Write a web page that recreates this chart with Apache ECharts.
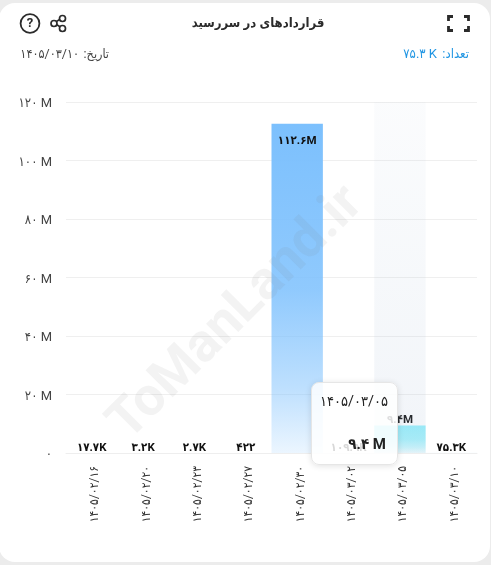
<!DOCTYPE html>
<html lang="fa">
<head>
<meta charset="utf-8">
<title>قراردادهای در سررسید</title>
<style>
html,body{margin:0;padding:0;background:#ececec;}
#chart{width:491px;height:565px;}
</style>
<script src="https://cdn.jsdelivr.net/npm/echarts@6/dist/echarts.min.js"></script>
</head>
<body>
<div id="chart"></div>
<script>
// Expiry dates and open contracts per date
const dates = ['۱۴۰۵/۰۲/۱۶','۱۴۰۵/۰۲/۲۰','۱۴۰۵/۰۲/۲۳','۱۴۰۵/۰۲/۲۷','۱۴۰۵/۰۲/۳۰','۱۴۰۵/۰۳/۰۲','۱۴۰۵/۰۳/۰۵','۱۴۰۵/۰۳/۱۰'];
const contracts = [17700, 3200, 2700, 422, 112600000, 109900, 9400000, 75300];
const barColors = ['124,192,253','124,192,253','124,192,253','124,192,253','124,192,253','124,192,253','150,240,252','124,192,253'];
const yTicks = [0, 20000000, 40000000, 60000000, 80000000, 100000000, 120000000];

const title = 'قراردادهای در سررسید';
const countLabel = 'تعداد:\u200f';
const countValue = '۷۵.۳ K';
const dateLabel = 'تاریخ:\u200f';
const dateValue = '۱۴۰۵/۰۳/۱۰';
const watermark = 'ToManLand.ir';
const activeIndex = 6;

const FONT = 'Roboto, "DejaVu Sans Condensed", "DejaVu Sans", sans-serif';
const toFa = s => String(s).replace(/\d/g, d => '۰۱۲۳۴۵۶۷۸۹'[d]);

// Compact number: 112600000 -> ۱۱۲.۶M, 17700 -> ۱۷.۷K, 422 -> ۴۲۲
function compact(v, sep) {
  if (v >= 1e6) return toFa(+(v / 1e6).toFixed(1)) + sep + 'M';
  if (v >= 1e3) return toFa(+(v / 1e3).toFixed(1)) + sep + 'K';
  return toFa(v);
}

const chart = echarts.init(document.getElementById('chart'), null, {renderer: 'canvas'});

const headerGraphics = [
  // card
  {type:'rect', z:-10, silent:true, shape:{x:-1, y:3, width:491, height:559, r:16}, style:{fill:'#fff'}},
  // watermark, laid over the bars
  {type:'text', z:50, silent:true, x:237, y:314, rotation:Math.PI/4, style:{
    text:watermark, fill:'rgba(120,120,120,0.09)', font:'bold 54px Roboto, sans-serif', align:'center', verticalAlign:'middle'}},
  // title row
  {type:'text', x:258, y:24, style:{text:title, fill:'#2b2b2b', font:'bold 13px '+FONT, align:'center', verticalAlign:'middle'}},
  {type:'text', x:469, y:55, style:{text:countLabel, fill:'#2196e3', font:'13px '+FONT, align:'right', verticalAlign:'middle'}},
  {type:'text', x:437, y:55, style:{text:countValue, fill:'#2196e3', font:'13px '+FONT, align:'right', verticalAlign:'middle'}},
  {type:'text', x:109, y:55, style:{text:dateLabel, fill:'#444', font:'12.5px '+FONT, align:'right', verticalAlign:'middle'}},
  {type:'text', x:79, y:55, style:{text:dateValue, fill:'#444', font:'12.5px '+FONT, align:'right', verticalAlign:'middle'}},
  // help button
  {type:'circle', shape:{cx:30, cy:23.5, r:9.4}, style:{fill:'none', stroke:'#2b2b2b', lineWidth:1.8}},
  {type:'text', x:30, y:24, style:{text:'?', fill:'#2b2b2b', font:'bold 13px Roboto, sans-serif', align:'center', verticalAlign:'middle'}},
  // share button
  {type:'polyline', shape:{points:[[62,18],[54,23],[62,28]]}, style:{fill:'none', stroke:'#2b2b2b', lineWidth:1.6}},
  {type:'circle', shape:{cx:62.5, cy:18.5, r:3}, style:{fill:'#fff', stroke:'#2b2b2b', lineWidth:1.7}},
  {type:'circle', shape:{cx:54, cy:23.5, r:3}, style:{fill:'#fff', stroke:'#2b2b2b', lineWidth:1.7}},
  {type:'circle', shape:{cx:62.5, cy:28.5, r:3}, style:{fill:'#fff', stroke:'#2b2b2b', lineWidth:1.7}},
  // fullscreen button
  {type:'polyline', shape:{points:[[448.5,21],[448.5,16.5],[453,16.5]]}, style:{fill:'none', stroke:'#2b2b2b', lineWidth:2.8}},
  {type:'polyline', shape:{points:[[464,16.5],[468.5,16.5],[468.5,21]]}, style:{fill:'none', stroke:'#2b2b2b', lineWidth:2.8}},
  {type:'polyline', shape:{points:[[448.5,26],[448.5,30.5],[453,30.5]]}, style:{fill:'none', stroke:'#2b2b2b', lineWidth:2.8}},
  {type:'polyline', shape:{points:[[464,30.5],[468.5,30.5],[468.5,26]]}, style:{fill:'none', stroke:'#2b2b2b', lineWidth:2.8}}
];

chart.setOption({
  animation: false,
  textStyle: {fontFamily: FONT},
  graphic: headerGraphics,
  grid: {left: 66, right: 14, top: 102, bottom: 112, containLabel: false},
  tooltip: {
    trigger: 'axis',
    alwaysShowContent: true,
    transitionDuration: 0,
    position: [311, 382],
    padding: 0,
    borderWidth: 1,
    borderColor: '#e6e6e6',
    backgroundColor: 'rgba(255,255,255,0.84)',
    extraCssText: 'border-radius:8px;box-shadow:0 1px 6px rgba(0,0,0,0.12);width:87px;height:83px;box-sizing:border-box;',
    axisPointer: {
      type: 'shadow',
      shadowStyle: {
        color: new echarts.graphic.LinearGradient(0, 0, 0, 1, [
          {offset: 0, color: 'rgba(170,190,215,0.05)'},
          {offset: 1, color: 'rgba(170,190,215,0.16)'}
        ])
      }
    },
    formatter: params => {
      const p = params[0];
      return '<div style="position:relative;width:85px;height:81px;font-family:' + FONT.replace(/"/g, "'") + ';color:#222;direction:ltr;">'
        + '<div style="position:absolute;left:8px;top:8px;font-size:14.5px;white-space:nowrap;">' + p.name + '</div>'
        + '<div style="position:absolute;right:11px;top:51px;font-size:15px;font-weight:bold;white-space:nowrap;">' + compact(p.value, ' ') + '</div>'
        + '</div>';
    }
  },
  xAxis: {
    type: 'category',
    data: dates,
    axisLine: {lineStyle: {color: '#eeeeee', width: 1}},
    axisTick: {show: false},
    axisLabel: {rotate: 90, color: '#333', fontSize: 12, margin: 13, interval: 0, fontFamily: FONT, verticalAlign: 'top', lineHeight: 7}
  },
  yAxis: {
    type: 'value',
    min: yTicks[0],
    max: yTicks[yTicks.length - 1],
    interval: yTicks[1] - yTicks[0],
    axisLine: {show: false},
    axisTick: {show: false},
    splitLine: {lineStyle: {color: '#efefef', width: 1}},
    axisLabel: {
      color: '#444', fontSize: 13, margin: 14, fontFamily: FONT, verticalAlign: 'top', lineHeight: 4,
      formatter: v => v === 0 ? toFa(0) : toFa(v / 1e6) + ' M'
    }
  },
  series: [{
    type: 'bar',
    barCategoryGap: 0,
    barWidth: '100%',
    data: contracts.map((v, i) => ({
      value: v,
      itemStyle: {
        // Bars under a pixel tall stay pale so they do not thicken the axis
        color: v < 2e5 ? 'rgba(' + barColors[i] + ',0.1)' : new echarts.graphic.LinearGradient(0, 0, 0, 1, [
          {offset: 0, color: 'rgba(' + barColors[i] + ',1)'},
          {offset: 0.5, color: 'rgba(' + barColors[i] + ',0.85)'},
          {offset: 0.8, color: 'rgba(' + barColors[i] + ',0.5)'},
          {offset: 1, color: 'rgba(' + barColors[i] + ',0.15)'}
        ])
      },
      label: v > 5e7 ? {position: 'insideTop', distance: 11} : {position: 'top', distance: -1}
    })),
    label: {
      show: true,
      color: '#111',
      fontSize: 11.5,
      fontWeight: 'bold',
      fontFamily: FONT,
      formatter: p => compact(p.value, '')
    },
    emphasis: {disabled: true}
  }]
});

// Keep the tooltip of the selected expiry date open
chart.dispatchAction({type: 'showTip', seriesIndex: 0, dataIndex: activeIndex});
</script>
</body>
</html>
